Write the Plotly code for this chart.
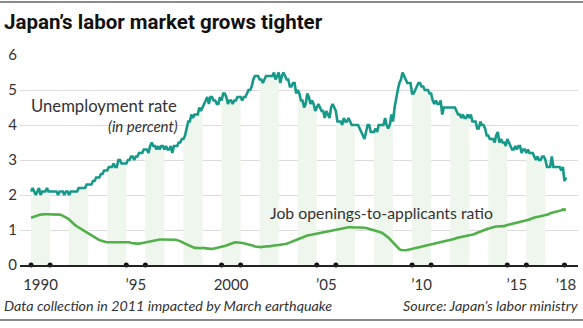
import plotly.graph_objects as go

# Monthly data, Jan 1990 - Feb 2018
unemployment = [
    2.1, 2.2, 2.1, 2.0, 2.1, 2.2, 2.0, 2.1, 2.1, 2.1, 2.2, 2.1,  # 1990
    2.1, 2.1, 2.1, 2.1, 2.1, 2.0, 2.1, 2.1, 2.1, 2.0, 2.1, 2.1,  # 1991
    2.0, 2.1, 2.1, 2.1, 2.1, 2.1, 2.2, 2.2, 2.2, 2.2, 2.2, 2.3,  # 1992
    2.3, 2.3, 2.3, 2.4, 2.4, 2.5, 2.5, 2.5, 2.6, 2.6, 2.7, 2.7,  # 1993
    2.7, 2.8, 2.8, 2.8, 2.9, 2.8, 2.8, 3.0, 3.0, 2.9, 2.9, 2.9,  # 1994
    2.9, 3.0, 3.0, 3.1, 3.1, 3.0, 3.1, 3.1, 3.2, 3.2, 3.2, 3.3,  # 1995
    3.3, 3.3, 3.2, 3.4, 3.5, 3.4, 3.4, 3.3, 3.4, 3.3, 3.4, 3.4,  # 1996
    3.3, 3.4, 3.3, 3.3, 3.4, 3.2, 3.4, 3.4, 3.4, 3.5, 3.5, 3.6,  # 1997
    3.6, 3.7, 3.9, 4.1, 4.1, 4.3, 4.2, 4.3, 4.3, 4.3, 4.5, 4.4,  # 1998
    4.5, 4.6, 4.7, 4.8, 4.6, 4.8, 4.8, 4.7, 4.7, 4.6, 4.6, 4.8,  # 1999
    4.7, 4.9, 4.9, 4.8, 4.6, 4.7, 4.7, 4.6, 4.7, 4.7, 4.8, 4.8,  # 2000
    4.8, 4.7, 4.8, 4.8, 4.9, 5.0, 5.0, 5.1, 5.3, 5.4, 5.4, 5.4,  # 2001
    5.3, 5.3, 5.2, 5.3, 5.4, 5.4, 5.4, 5.4, 5.4, 5.5, 5.3, 5.4,  # 2002
    5.5, 5.2, 5.4, 5.5, 5.4, 5.3, 5.3, 5.1, 5.1, 5.2, 5.2, 4.9,  # 2003
    5.0, 4.9, 4.7, 4.7, 4.5, 4.6, 4.9, 4.8, 4.6, 4.7, 4.6, 4.4,  # 2004
    4.5, 4.6, 4.5, 4.4, 4.4, 4.2, 4.4, 4.3, 4.2, 4.5, 4.6, 4.5,  # 2005
    4.4, 4.1, 4.1, 4.1, 4.0, 4.2, 4.1, 4.1, 4.2, 4.1, 4.0, 4.0,  # 2006
    4.0, 4.0, 4.0, 3.9, 3.8, 3.7, 3.6, 3.8, 4.0, 4.0, 3.8, 3.8,  # 2007
    3.8, 3.9, 3.8, 4.0, 4.0, 4.0, 4.0, 4.2, 4.0, 3.9, 4.0, 4.3,  # 2008
    4.1, 4.5, 4.8, 5.0, 5.2, 5.3, 5.5, 5.4, 5.3, 5.2, 5.2, 5.2,  # 2009
    4.9, 4.9, 5.0, 5.1, 5.2, 5.2, 5.1, 5.1, 5.0, 5.0, 5.0, 4.9,  # 2010
    4.9, 4.7, 4.6, 4.7, 4.6, 4.6, 4.7, 4.3, 4.5, 4.5, 4.5, 4.5,  # 2011
    4.5, 4.5, 4.5, 4.5, 4.4, 4.3, 4.3, 4.2, 4.3, 4.2, 4.2, 4.3,  # 2012
    4.2, 4.3, 4.1, 4.1, 4.1, 3.9, 3.9, 4.1, 4.0, 4.0, 3.9, 3.7,  # 2013
    3.7, 3.6, 3.6, 3.6, 3.5, 3.7, 3.8, 3.5, 3.6, 3.5, 3.5, 3.4,  # 2014
    3.6, 3.5, 3.4, 3.3, 3.3, 3.4, 3.3, 3.4, 3.4, 3.2, 3.3, 3.3,  # 2015
    3.2, 3.3, 3.2, 3.2, 3.2, 3.1, 3.0, 3.1, 3.0, 3.0, 3.1, 3.1,  # 2016
    3.0, 2.8, 2.8, 2.8, 3.1, 2.8, 2.8, 2.8, 2.8, 2.8, 2.7, 2.8,  # 2017
    2.4, 2.5,                                                    # 2018
]

job_ratio = [
    1.35, 1.37, 1.39, 1.41, 1.42, 1.43, 1.44, 1.45, 1.45, 1.45, 1.45, 1.45,  # 1990
    1.45, 1.45, 1.46, 1.46, 1.45, 1.45, 1.44, 1.43, 1.41, 1.39, 1.36, 1.33,  # 1991
    1.30, 1.25, 1.21, 1.17, 1.13, 1.10, 1.08, 1.05, 1.02, 0.99, 0.96, 0.94,  # 1992
    0.91, 0.88, 0.85, 0.82, 0.79, 0.76, 0.73, 0.71, 0.70, 0.68, 0.67, 0.66,  # 1993
    0.65, 0.65, 0.64, 0.64, 0.64, 0.64, 0.64, 0.64, 0.64, 0.64, 0.65, 0.65,  # 1994
    0.66, 0.65, 0.65, 0.63, 0.62, 0.61, 0.61, 0.61, 0.61, 0.62, 0.63, 0.64,  # 1995
    0.66, 0.67, 0.68, 0.69, 0.70, 0.71, 0.72, 0.72, 0.73, 0.73, 0.73, 0.73,  # 1996
    0.74, 0.74, 0.74, 0.73, 0.73, 0.73, 0.73, 0.72, 0.71, 0.70, 0.68, 0.66,  # 1997
    0.63, 0.61, 0.59, 0.56, 0.54, 0.52, 0.50, 0.49, 0.49, 0.48, 0.48, 0.48,  # 1998
    0.49, 0.48, 0.47, 0.46, 0.46, 0.46, 0.46, 0.47, 0.48, 0.48, 0.49, 0.49,  # 1999
    0.50, 0.52, 0.54, 0.56, 0.58, 0.60, 0.62, 0.63, 0.64, 0.65, 0.65, 0.65,  # 2000
    0.64, 0.63, 0.62, 0.61, 0.61, 0.59, 0.58, 0.56, 0.55, 0.53, 0.52, 0.51,  # 2001
    0.51, 0.51, 0.52, 0.52, 0.53, 0.53, 0.54, 0.54, 0.55, 0.55, 0.56, 0.57,  # 2002
    0.57, 0.58, 0.58, 0.59, 0.60, 0.61, 0.62, 0.64, 0.66, 0.68, 0.70, 0.72,  # 2003
    0.74, 0.76, 0.78, 0.79, 0.80, 0.82, 0.84, 0.85, 0.86, 0.87, 0.88, 0.89,  # 2004
    0.89, 0.90, 0.91, 0.92, 0.93, 0.94, 0.94, 0.95, 0.96, 0.97, 0.98, 0.99,  # 2005
    1.01, 1.02, 1.03, 1.04, 1.05, 1.06, 1.07, 1.07, 1.08, 1.08, 1.07, 1.07,  # 2006
    1.07, 1.07, 1.06, 1.07, 1.07, 1.07, 1.07, 1.06, 1.05, 1.03, 1.01, 1.00,  # 2007
    0.99, 0.98, 0.97, 0.96, 0.94, 0.92, 0.89, 0.86, 0.83, 0.79, 0.74, 0.69,  # 2008
    0.63, 0.58, 0.53, 0.48, 0.45, 0.43, 0.42, 0.42, 0.42, 0.43, 0.44, 0.45,  # 2009
    0.46, 0.47, 0.48, 0.49, 0.50, 0.51, 0.52, 0.53, 0.55, 0.56, 0.57, 0.58,  # 2010
    0.59, 0.60, 0.61, 0.61, 0.62, 0.63, 0.64, 0.65, 0.66, 0.67, 0.68, 0.69,  # 2011
    0.71, 0.72, 0.74, 0.75, 0.77, 0.78, 0.79, 0.80, 0.81, 0.81, 0.81, 0.82,  # 2012
    0.84, 0.85, 0.86, 0.88, 0.90, 0.92, 0.94, 0.95, 0.96, 0.98, 1.00, 1.02,  # 2013
    1.04, 1.05, 1.07, 1.08, 1.09, 1.10, 1.10, 1.10, 1.10, 1.10, 1.11, 1.13,  # 2014
    1.14, 1.15, 1.16, 1.17, 1.18, 1.19, 1.21, 1.22, 1.24, 1.24, 1.25, 1.27,  # 2015
    1.28, 1.29, 1.30, 1.32, 1.34, 1.36, 1.37, 1.37, 1.38, 1.40, 1.41, 1.43,  # 2016
    1.43, 1.43, 1.45, 1.48, 1.49, 1.51, 1.52, 1.52, 1.52, 1.55, 1.56, 1.59,  # 2017
    1.59, 1.58,                                                              # 2018
]

start_year = 1990
shaded_years = list(range(1990, 2017, 2))
tick_dot_years = [1990, 1991, 1995, 1996, 2000, 2001, 2005, 2006, 2010, 2011, 2015, 2016, 2018]
tick_label_pos = [1990.5, 1995.5, 2000.5, 2005.5, 2010.5, 2015.5, 2018.08]
tick_labels = ["1990", "\u201995", "2000", "\u201905", "\u201910", "\u201915", "\u201918"]
y_ticks = [0, 1, 2, 3, 4, 5, 6]

months = [start_year + i / 12 for i in range(len(unemployment))]

TEAL = "#17998a"
GREEN = "#52b04a"
SHADE = "#eff6ed"
FONT = "Lato"

fig = go.Figure()

# alternating-year shading beneath the unemployment curve
for yr in shaded_years:
    i0 = (yr - start_year) * 12
    i1 = min(i0 + 13, len(unemployment))
    fig.add_trace(go.Scatter(
        x=months[i0:i1], y=unemployment[i0:i1], mode="lines",
        line=dict(width=0), fill="tozeroy", fillcolor=SHADE,
        hoverinfo="skip", showlegend=False))

fig.add_trace(go.Scatter(x=months, y=unemployment, mode="lines",
                         line=dict(color=TEAL, width=2.6), showlegend=False))
fig.add_trace(go.Scatter(x=months, y=job_ratio, mode="lines",
                         line=dict(color=GREEN, width=2.6), showlegend=False))
fig.add_trace(go.Scatter(x=tick_dot_years, y=[0] * len(tick_dot_years), mode="markers",
                         marker=dict(color="#111", size=5), cliponaxis=False,
                         showlegend=False))

W, H = 583, 328
L, R, T, B = 20, 5, 55, 63
pw, ph = W - L - R, H - T - B


def px(xp):
    return (xp - L) / pw


def py(yp):
    return (H - B - yp) / ph


fig.update_layout(
    width=W, height=H,
    margin=dict(l=L, r=R, t=T, b=B),
    paper_bgcolor="white", plot_bgcolor="white",
    font=dict(family=FONT, color="#333"),
    xaxis=dict(range=[1989.42, 2018.71], showgrid=False, zeroline=False,
               tickvals=tick_label_pos, ticktext=tick_labels, ticks="",
               tickfont=dict(size=15, color="#333", family=FONT),
               showline=True, linecolor="#222", linewidth=1.5,
               ticklabelstandoff=5),
    yaxis=dict(range=[0, 6], tickvals=y_ticks, showgrid=True,
               gridcolor="#dcdcdc", gridwidth=1, zeroline=False,
               ticks="", tickfont=dict(size=15, color="#333", family=FONT),
               ticklabelstandoff=2),
    shapes=[
        dict(type="line", xref="paper", yref="paper", x0=px(0), x1=px(W),
             y0=py(2), y1=py(2), line=dict(color="#8a8a8a", width=2)),
        dict(type="line", xref="paper", yref="paper", x0=px(0), x1=px(W),
             y0=py(320), y1=py(320), line=dict(color="#8a8a8a", width=2)),
    ],
    annotations=[
        dict(text="<b>Japan\u2019s labor market grows tighter</b>", xref="paper", yref="paper",
             x=px(2), y=py(22), xanchor="left", yanchor="middle", showarrow=False,
             font=dict(size=20.5, color="#111", family="Roboto")),
        dict(text="Unemployment rate", xref="paper", yref="paper",
             x=px(179), y=py(106), xanchor="right", yanchor="middle", showarrow=False,
             font=dict(size=16.7, color="#333", family=FONT)),
        dict(text="<i>(in percent)</i>", xref="paper", yref="paper",
             x=px(180), y=py(126), xanchor="right", yanchor="middle", showarrow=False,
             font=dict(size=15, color="#333", family=FONT)),
        dict(text="Job openings-to-applicants ratio", xref="paper", yref="paper",
             x=px(268), y=py(212), xanchor="left", yanchor="middle", showarrow=False,
             font=dict(size=15.8, color="#333", family=FONT)),
        dict(text="<i>Data collection in 2011 impacted by March earthquake</i>",
             xref="paper", yref="paper", x=px(2), y=py(305), xanchor="left",
             yanchor="middle", showarrow=False,
             font=dict(size=14.3, color="#333", family=FONT)),
        dict(text="<i>Source: Japan\u2019s labor ministry</i>",
             xref="paper", yref="paper", x=px(581), y=py(305), xanchor="right",
             yanchor="middle", showarrow=False,
             font=dict(size=14.3, color="#333", family=FONT)),
    ],
)

fig.write_html("out.html")
